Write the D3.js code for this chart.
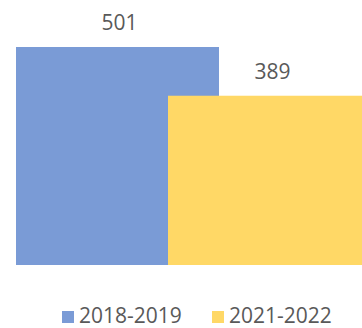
<!DOCTYPE html>
<html>
<head>
<meta charset="utf-8">
<script src="https://cdn.jsdelivr.net/npm/d3@7"></script>
<style>
  html, body { margin: 0; padding: 0; background: #ffffff; }
  svg { display: block; }
</style>
</head>
<body>
<svg id="chart" width="362" height="328"></svg>
<script>
// Series shown as overlapping columns in a single category
const seriesNames = ["2018-2019", "2021-2022"];
const seriesValues = [501, 389];
const seriesColors = ["#7a9bd6", "#ffd866"];

const W = 362, H = 328;
const svg = d3.select("#chart");

const barWidth = 203;
const fontFamily = "'Open Sans', 'Noto Sans', sans-serif";

// Left edge of each column; second column overlaps the first
const x = d3.scalePoint().domain(seriesNames).range([16, 168]);
const y = d3.scaleLinear().domain([0, 501]).range([265, 47]);

const data = seriesNames.map((name, i) => ({ name, value: seriesValues[i], color: seriesColors[i] }));

svg.append("g")
  .selectAll("rect")
  .data(data)
  .join("rect")
  .attr("x", d => x(d.name))
  .attr("y", d => y(d.value))
  .attr("width", barWidth)
  .attr("height", d => y(0) - y(d.value))
  .attr("fill", d => d.color);

// Value labels above each column
svg.append("g")
  .selectAll("text")
  .data(data)
  .join("text")
  .attr("x", (d, i) => x(d.name) + barWidth / 2 + (i === 0 ? 2 : 3))
  .attr("y", d => y(d.value) - 17)
  .attr("text-anchor", "middle")
  .attr("font-family", fontFamily)
  .attr("font-size", 21)
  .attr("fill", "#595959")
  .text(d => d.value);

// Legend
const legendX = d3.scalePoint().domain(seriesNames).range([62, 212]);
const legend = svg.append("g")
  .selectAll("g")
  .data(data)
  .join("g")
  .attr("transform", d => `translate(${legendX(d.name)},311)`);

legend.append("rect")
  .attr("width", 12)
  .attr("height", 12)
  .attr("fill", d => d.color);

legend.append("text")
  .attr("x", 17)
  .attr("y", 12)
  .attr("font-family", fontFamily)
  .attr("font-size", 21)
  .attr("fill", "#595959")
  .text(d => d.name);
</script>
</body>
</html>
